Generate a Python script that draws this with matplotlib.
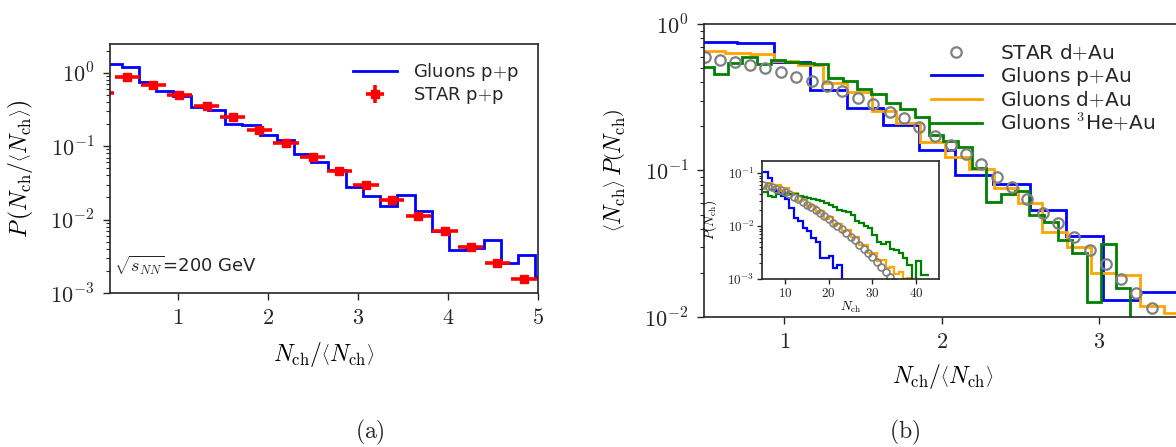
import numpy as np
import matplotlib
matplotlib.use('Agg')
import matplotlib.pyplot as plt
from matplotlib.ticker import FuncFormatter, LogLocator, NullFormatter

# ---------------- (a) p+p ----------------
# Gluons p+p histogram (N_ch/<N_ch>)
pp_edges = [0.183, 0.374, 0.566, 0.757, 0.949, 1.140, 1.332, 1.523, 1.715, 1.906,
            2.098, 2.289, 2.481, 2.672, 2.864, 3.055, 3.247, 3.438, 3.630, 3.821,
            4.013, 4.204, 4.396, 4.587, 4.779, 4.970, 5.162]
pp_gluons = [1.31, 1.18, 0.754, 0.569, 0.486, 0.344, 0.310, 0.200, 0.194, 0.144,
             0.121, 0.0778, 0.0605, 0.047, 0.0279, 0.021, 0.0153, 0.0215, 0.0131, 0.00699,
             0.00381, 0.00415, 0.00522, 0.00256, 0.00333, 0.00165]
# STAR p+p
star_pp_x = [0.148, 0.437, 0.726, 1.015, 1.318, 1.607, 1.904, 2.200, 2.497, 2.793,
             3.089, 3.374, 3.670, 3.967, 4.252, 4.548, 4.844]
star_pp_y = [0.533, 0.880, 0.680, 0.497, 0.351, 0.246, 0.165, 0.109, 0.0722, 0.0460,
             0.0300, 0.0183, 0.0112, 0.00698, 0.00423, 0.00256, 0.00157]
star_pp_xerr = 0.14
star_pp_relerr = 0.10

# ---------------- (b) p/d/3He+Au ----------------
star_dau_x = [0.498, 0.589, 0.684, 0.784, 0.879, 0.979, 1.076, 1.176, 1.271, 1.366,
              1.468, 1.563, 1.669, 1.762, 1.859, 1.959, 2.058, 2.156, 2.249, 2.350,
              2.446, 2.541, 2.643, 2.742, 2.841, 2.943, 3.044, 3.138, 3.235, 3.335]
star_dau_y = [0.593, 0.568, 0.548, 0.525, 0.499, 0.472, 0.436, 0.410, 0.377, 0.349,
              0.314, 0.283, 0.252, 0.227, 0.197, 0.173, 0.149, 0.130, 0.111, 0.0907,
              0.0775, 0.0638, 0.0515, 0.0436, 0.0353, 0.0287, 0.0229, 0.0181, 0.0145, 0.0116]

pau_edges = [0.4675, 0.700, 0.932, 1.165, 1.398, 1.627, 1.859, 2.086, 2.329, 2.562,
             2.789, 3.024, 3.260, 3.490]
pau_gluons = [0.757, 0.738, 0.553, 0.354, 0.266, 0.205, 0.138, 0.0932, 0.0809, 0.0537,
              0.0357, 0.0131, 0.0147]

dau_edges = [0.470, 0.625, 0.780, 0.935, 1.090, 1.245, 1.400, 1.555, 1.710, 1.865,
             2.020, 2.175, 2.330, 2.485, 2.640, 2.795, 2.950, 3.105, 3.260, 3.415, 3.570]
dau_gluons = [0.657, 0.637, 0.621, 0.561, 0.525, 0.397, 0.345, 0.256, 0.210, 0.157,
              0.124, 0.102, 0.0756, 0.0603, 0.0382, 0.0302, 0.0199, 0.0195, 0.0119, 0.0106]

heau_edges = [0.460, 0.551, 0.642, 0.734, 0.825, 0.916, 1.007, 1.098, 1.190, 1.281,
              1.372, 1.463, 1.554, 1.646, 1.737, 1.828, 1.919, 2.010, 2.102, 2.193,
              2.284, 2.375, 2.466, 2.558, 2.649, 2.740, 2.831, 2.922, 3.014, 3.105,
              3.196, 3.287]
heau_gluons = [0.511, 0.456, 0.539, 0.598, 0.533, 0.568, 0.553, 0.539, 0.531, 0.426,
               0.410, 0.358, 0.333, 0.288, 0.262, 0.233, 0.175, 0.159, 0.145, 0.1035,
               0.0612, 0.0691, 0.0724, 0.0497, 0.0448, 0.0336, 0.0272, 0.0127, 0.0315, 0.0157,
               0.0]

# inset: P(N_ch) vs N_ch
in_star_n = list(range(5, 36))
in_star_y = [0.0603, 0.0575, 0.0550, 0.0513, 0.0479, 0.0437, 0.0398, 0.0363, 0.0324, 0.0288,
             0.0257, 0.0229, 0.0204, 0.0178, 0.0155, 0.0135, 0.0117, 0.0102, 0.0087, 0.0074,
             0.0063, 0.0054, 0.0045, 0.0037, 0.0031, 0.0026, 0.0021, 0.0017, 0.0014, 0.0011,
             0.0009]
in_pau_edges = list(range(5, 25))
in_pau = [0.106, 0.082, 0.050, 0.046, 0.038, 0.032, 0.022, 0.0143, 0.0124, 0.0092,
          0.0080, 0.0059, 0.0051, 0.0025, 0.0025, 0.0027, 0.0016, 0.0019, 0.0]
in_dau_edges = list(range(5, 41))
in_dau = [0.0550, 0.0646, 0.0525, 0.0603, 0.0468, 0.0525, 0.0389, 0.0417, 0.0302, 0.0316,
          0.0229, 0.0245, 0.0178, 0.0191, 0.0138, 0.0148, 0.0107, 0.0112, 0.00813, 0.00851,
          0.00617, 0.00631, 0.00437, 0.00437, 0.00309, 0.00309, 0.00224, 0.00234, 0.00166, 0.00174,
          0.00126, 0.00135, 0.00100, 0.00105, 0.0]
in_heau_edges = list(range(5, 44))
in_heau = [0.044, 0.038, 0.036, 0.041, 0.041, 0.042, 0.041, 0.040, 0.038, 0.036,
           0.0347, 0.033, 0.0316, 0.0295, 0.0275, 0.0251, 0.0229, 0.0204, 0.019, 0.0182,
           0.0166, 0.0123, 0.0117, 0.0100, 0.0091, 0.0069, 0.0050, 0.0046, 0.0050, 0.0038,
           0.0035, 0.0031, 0.0025, 0.0019, 0.0, 0.0022, 0.0012, 0.0012]

BLUE, ORANGE, GREEN, GREY = '#0000ff', '#ffa500', '#008000', '#808080'
INK = '#262626'

plt.rcParams['mathtext.fontset'] = 'cm'
plt.rcParams['font.family'] = ['DejaVu Sans']
plt.rcParams['text.color'] = INK
plt.rcParams['axes.edgecolor'] = INK
plt.rcParams['xtick.color'] = INK
plt.rcParams['ytick.color'] = INK
plt.rcParams['axes.linewidth'] = 1.2


def lin_fmt(v, pos):
    return r'$%g$' % v


def log_fmt(v, pos):
    return r'$10^{%d}$' % int(round(np.log10(v)))


def style_axis(ax, size, major, minor, pad):
    ax.set_yscale('log')
    ax.yaxis.set_major_locator(LogLocator(base=10, numticks=10))
    ax.yaxis.set_minor_locator(LogLocator(base=10, subs=range(2, 10), numticks=20))
    ax.yaxis.set_major_formatter(FuncFormatter(log_fmt))
    ax.yaxis.set_minor_formatter(NullFormatter())
    ax.xaxis.set_major_formatter(FuncFormatter(lin_fmt))
    ax.tick_params(which='major', direction='out', length=major, width=1.0,
                   labelsize=size, pad=pad)
    ax.tick_params(which='minor', direction='out', length=minor, width=0.8)


fig = plt.figure(figsize=(11.76, 4.47), dpi=100)

# (a)
ax1 = fig.add_axes([110 / 1176, 154 / 447, 428 / 1176, 249 / 447])
style_axis(ax1, 16, 5, 3, 6)
ax1.stairs(pp_gluons, pp_edges, color=BLUE, lw=2.0, baseline=None, label='Gluons p$+$p')
yerr = [v * star_pp_relerr for v in star_pp_y]
ax1.errorbar(star_pp_x, star_pp_y, xerr=star_pp_xerr, yerr=yerr, fmt='s', color='red',
             ms=6, elinewidth=2.6, capsize=0, label='STAR p$+$p')
ax1.set_xlim(0.245, 5.0)
ax1.set_ylim(1e-3, 2.46)
ax1.set_xticks([1, 2, 3, 4, 5])
ax1.set_xlabel(r'$N_{\rm ch}/\left\langle N_{\rm ch}\right\rangle$', fontsize=17)
ax1.set_ylabel(r'$P\,\left(N_{\rm ch}/\left\langle N_{\rm ch}\right\rangle\right)$', fontsize=17)
ax1.xaxis.set_label_coords(0.5, -0.19)
ax1.yaxis.set_label_coords(-0.175, 0.5)
ax1.text(0.01, 0.065, r'$\sqrt{s_{NN}}$=200 GeV', transform=ax1.transAxes,
         fontsize=13, ha='left', va='bottom')
ax1.legend(loc='upper right', bbox_to_anchor=(0.955, 0.93), frameon=False, fontsize=13,
           borderpad=0, borderaxespad=0, handlelength=2.4, handletextpad=0.9,
           labelspacing=0.1)

# (b)
ax2 = fig.add_axes([704 / 1176, 130 / 447, 489.5 / 1176, 293 / 447])
style_axis(ax2, 16, 5, 3, 6)
ax2.plot(star_dau_x, star_dau_y, 'o', mfc='none', mec=GREY, mew=1.6, ms=7.5,
         label='STAR d$+$Au')
ax2.stairs(pau_gluons, pau_edges, color=BLUE, lw=2.0, baseline=None, label='Gluons p$+$Au')
ax2.stairs(dau_gluons, dau_edges, color=ORANGE, lw=2.0, baseline=None, label='Gluons d$+$Au')
ax2.stairs(heau_gluons, heau_edges, color=GREEN, lw=2.0, baseline=None,
           label='Gluons $^{3}$He$+$Au')
ax2.set_xlim(0.49, 3.6)
ax2.set_ylim(1e-2, 1.0)
ax2.set_xticks([1, 2, 3])
ax2.set_xlabel(r'$N_{\rm ch}/\left\langle N_{\rm ch}\right\rangle$', fontsize=17)
ax2.set_ylabel(r'$\left\langle N_{\rm ch}\right\rangle\,P\left(N_{\rm ch}\right)$', fontsize=17)
ax2.xaxis.set_label_coords(0.488, -0.155)
ax2.yaxis.set_label_coords(-0.155, 0.5)
ax2.legend(loc='upper right', bbox_to_anchor=(0.921, 0.935), frameon=False, fontsize=14.5,
           borderpad=0, borderaxespad=0, handlelength=2.5, handletextpad=0.9,
           labelspacing=0.1)

# inset
ax3 = fig.add_axes([762.3 / 1176, 167.7 / 447, 177 / 1176, 118.3 / 447])
style_axis(ax3, 9.5, 3.5, 2, 2)
ax3.plot(in_star_n, in_star_y, 'o', mfc='none', mec=GREY, mew=1.2, ms=5.0)
ax3.stairs(in_pau, in_pau_edges, color=BLUE, lw=1.6, baseline=None)
ax3.stairs(in_dau, in_dau_edges, color=ORANGE, lw=1.6, baseline=None)
ax3.stairs(in_heau, in_heau_edges, color=GREEN, lw=1.6, baseline=None)
ax3.set_xlim(4.8, 45.3)
ax3.set_ylim(1e-3, 0.17)
ax3.set_xticks([10, 20, 30, 40])
ax3.set_xlabel(r'$N_{\rm ch}$', fontsize=9.5, labelpad=0)
ax3.set_ylabel(r'$P(N_{\rm ch})$', fontsize=9.5, labelpad=0)
ax3.yaxis.set_label_coords(-0.245, 0.5)

fig.text(370 / 1176, 15 / 447, r'$\mathrm{(a)}$', fontsize=17, ha='center', va='center')
fig.text(905 / 1176, 15 / 447, r'$\mathrm{(b)}$', fontsize=17, ha='center', va='center')

fig.savefig('out.png', dpi=100)
